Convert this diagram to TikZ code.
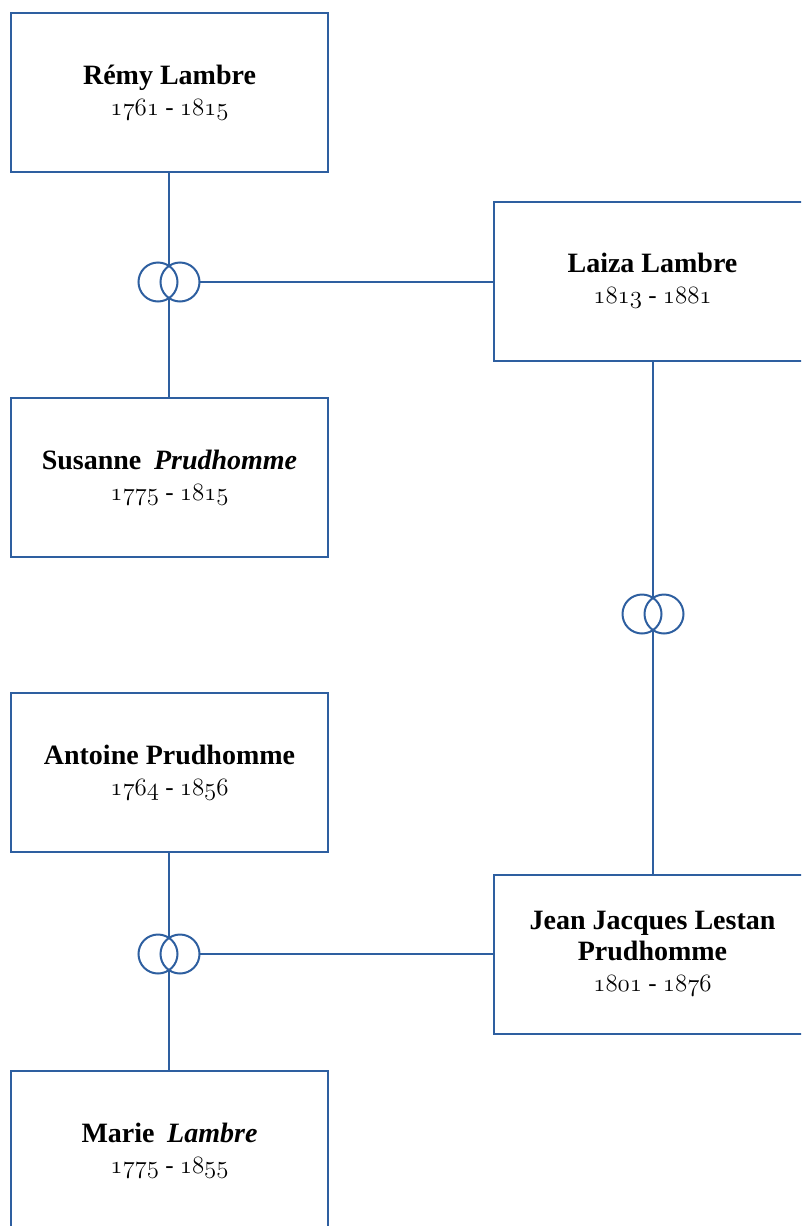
\documentclass[tikz,border=0pt]{standalone}
\usepackage{fontspec}
\setmainfont{Liberation Serif}
% old-style figures for the life dates
\newcommand{\yrs}[1]{{\usefont{OML}{cmm}{m}{it}#1}}
\newcommand{\datesize}{\fontsize{25}{31}\selectfont}
\definecolor{linec}{RGB}{46,95,160}
\begin{document}
\begin{tikzpicture}[x=1pt,y=-1pt,
  person/.style={draw=linec, line width=2pt, minimum width=317pt,
    minimum height=159pt, align=center, inner sep=0pt,
    font=\fontsize{28}{31}\selectfont},
  link/.style={draw=linec, line width=2pt},
  ring/.style={circle, draw=linec, line width=2pt, minimum size=39pt,
    inner sep=0pt, outer sep=0pt}]
\useasboundingbox (0,0) rectangle (801,1226);
\clip (0,0) rectangle (801,1226);

% people
\node[person] (remy) at (169.5,92.5)
  {\textbf{Rémy Lambre}\\{\datesize\yrs{1761} - \yrs{1815}}};
\node[person] (susanne) at (169.5,477.5)
  {\textbf{Susanne\hspace{0.45em}\textit{Prudhomme}}\\{\datesize\yrs{1775} - \yrs{1815}}};
\node[person] (antoine) at (169.5,772.5)
  {\textbf{Antoine Prudhomme}\\{\datesize\yrs{1764} - \yrs{1856}}};
\node[person] (marie) at (169.5,1150.5)
  {\textbf{Marie\hspace{0.45em}\textit{Lambre}}\\{\datesize\yrs{1775} - \yrs{1855}}};
\node[person] (laiza) at (652.5,281)
  {\textbf{Laiza Lambre}\\{\datesize\yrs{1813} - \yrs{1881}}};
\node[person] (jean) at (652.5,954)
  {\textbf{Jean Jacques Lestan}\\\textbf{Prudhomme}\\{\datesize\yrs{1801} - \yrs{1876}}};

% marriage rings
\node[ring] (r1l) at (158,282) {};
\node[ring] (r1r) at (180,282) {};
\coordinate (r1t) at (169,266);
\coordinate (r1b) at (169,298);

\node[ring] (r2l) at (642,614) {};
\node[ring] (r2r) at (664,614) {};
\coordinate (r2t) at (653,598);
\coordinate (r2b) at (653,630);

\node[ring] (r3l) at (158,954) {};
\node[ring] (r3r) at (180,954) {};
\coordinate (r3t) at (169,938);
\coordinate (r3b) at (169,970);

% connectors
\draw[link] (r1t |- remy.south) -- (r1t);
\draw[link] (r1b) -- (r1b |- susanne.north);
\draw[link] (r1r.east) -- (r1r.east -| laiza.west);

\draw[link] (r2t |- laiza.south) -- (r2t);
\draw[link] (r2b) -- (r2b |- jean.north);

\draw[link] (r3t |- antoine.south) -- (r3t);
\draw[link] (r3b) -- (r3b |- marie.north);
\draw[link] (r3r.east) -- (r3r.east -| jean.west);
\end{tikzpicture}
\end{document}
